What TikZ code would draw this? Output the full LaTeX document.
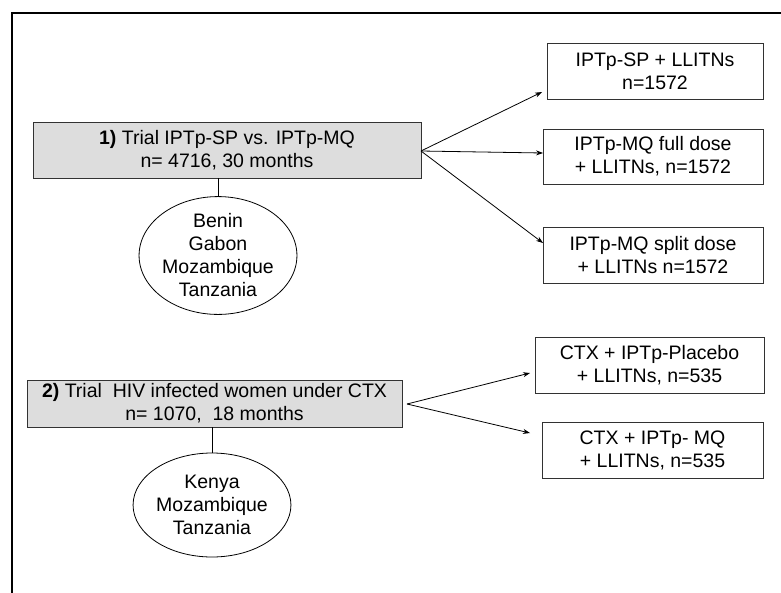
\documentclass[tikz,border=0pt]{standalone}
\usepackage{fontspec}
\setmainfont{Liberation Sans}
\usetikzlibrary{arrows.meta,shapes.geometric}
\definecolor{boxgrey}{RGB}{221,221,221}
\definecolor{edgegrey}{RGB}{50,50,50}
\tikzset{
  every node/.style={font=\fontsize{19.5}{23}\selectfont, align=center, inner sep=0pt},
  trialbox/.style={draw=edgegrey, line width=0.9pt, fill=boxgrey, rectangle},
  armbox/.style={draw=edgegrey, line width=0.9pt, fill=white, rectangle},
  country/.style={draw=black, line width=0.8pt, ellipse, fill=white},
  conn/.style={draw=black, line width=0.8pt},
  arr/.style={conn, -{Stealth[length=7pt,width=5pt]}},
}
\begin{document}
\begin{tikzpicture}[x=1pt,y=-1pt]
\clip (0,0) rectangle (781,592);
\fill[white] (0,0) rectangle (781,592);
% outer frame (right and bottom edges lie outside the picture)
\draw[line width=2.4pt] (12,900) -- (12,13) -- (900,13);

% trial 1
\node[trialbox, minimum width=388pt, minimum height=56pt] (b1) at (227,150)
  {\textbf{1)} Trial IPTp-SP vs. IPTp-MQ\\n= 4716, 30 months};
\node[country, minimum width=148pt, minimum height=107pt] (e1) at (218,255.5)
  {Benin\\Gabon\\Mozambique\\Tanzania};
\draw[conn] (e1.north) -- (e1.north |- b1.south);

\node[armbox, minimum width=216pt, minimum height=56pt] (r1) at (655,71)
  {IPTp-SP + LLITNs\\n=1572};
\node[armbox, minimum width=220pt, minimum height=55pt] (r2) at (653,156.5)
  {IPTp-MQ full dose\\+ LLITNs, n=1572};
\node[armbox, minimum width=220pt, minimum height=56pt] (r3) at (653,255)
  {IPTp-MQ split dose\\+ LLITNs n=1572};

\coordinate (t1) at (542,92);
\coordinate (t2) at (543,153);
\coordinate (t3) at (543,243);
\coordinate (s1) at (421,151);
\draw[arr] (s1) -- (t1);
\draw[arr] (s1) -- (t2);
\draw[arr] (s1) -- (t3);

% trial 2
\node[trialbox, minimum width=375pt, minimum height=47pt] (b2) at (214.5,403.5)
  {\textbf{2)} Trial\ \ HIV infected women under CTX\\n= 1070,\ \ 18 months};
\node[country, minimum width=148pt, minimum height=104pt] (e2) at (212,505)
  {Kenya\\Mozambique\\Tanzania};
\draw[conn] (e2.north) -- (e2.north |- b2.south);

\node[armbox, minimum width=229pt, minimum height=56pt] (r4) at (649.5,365)
  {CTX + IPTp-Placebo\\+ LLITNs, n=535};
\node[armbox, minimum width=221pt, minimum height=56pt] (r5) at (652.5,450)
  {CTX + IPTp- MQ\\+ LLITNs, n=535};

\coordinate (s2) at (407,404);
\coordinate (t4) at (530,373);
\coordinate (t5) at (530,433);
\draw[arr] (s2) -- (t4);
\draw[arr] (s2) -- (t5);
\end{tikzpicture}
\end{document}
